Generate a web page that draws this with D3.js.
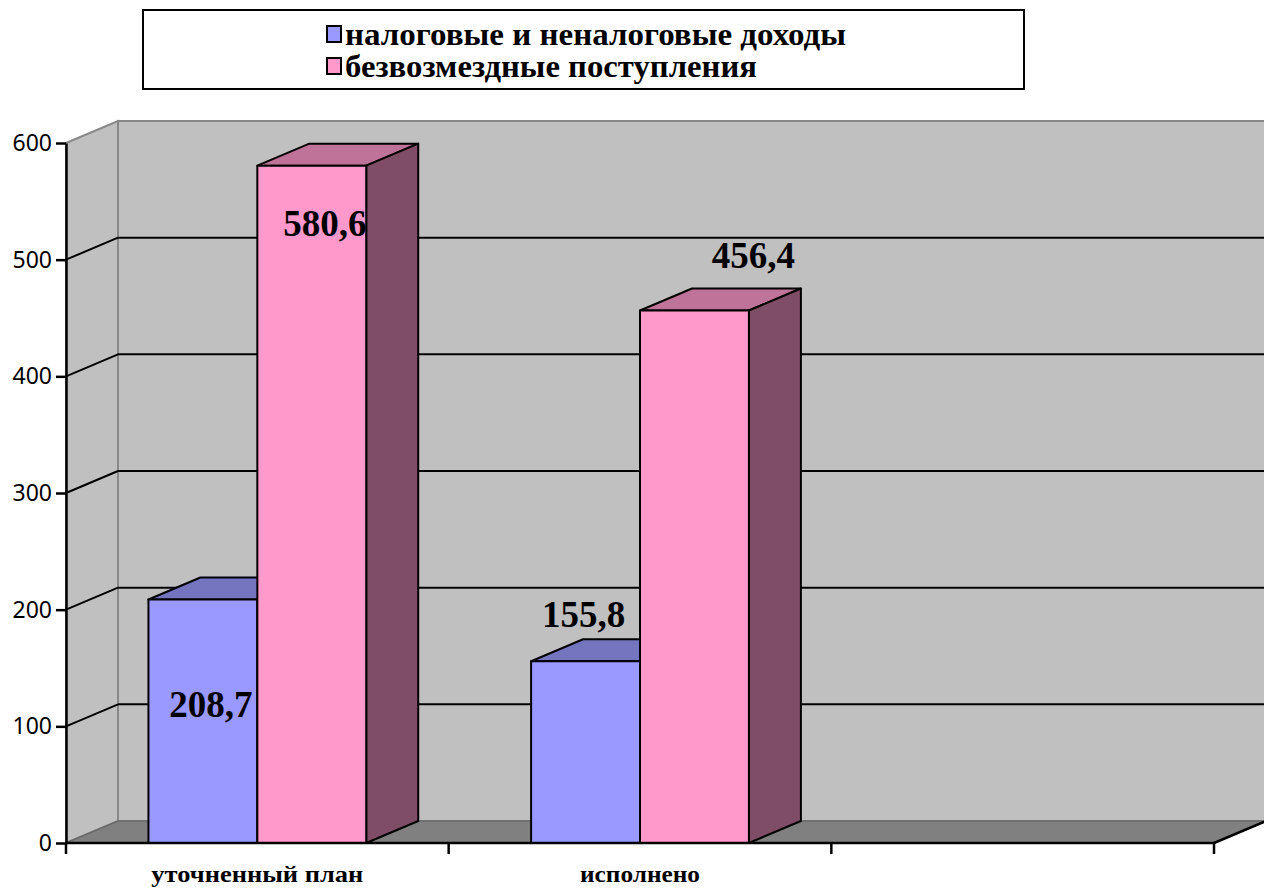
<!DOCTYPE html>
<html>
<head>
<meta charset="utf-8">
<script src="https://cdn.jsdelivr.net/npm/d3@7"></script>
<style>
  body { margin: 0; background: #fff; }
</style>
</head>
<body>
<div id="chart"></div>
<script>
const categories = ['уточненный план', 'исполнено', ''];
const seriesNames = ['налоговые и неналоговые доходы', 'безвозмездные поступления'];
const taxValues = [208.7, 155.8, null];
const grantValues = [580.6, 456.4, null];
const yTicks = [0, 100, 200, 300, 400, 500, 600];

const width = 1264, height = 891;
const margin = { top: 143, right: 50, bottom: 48, left: 66 };
const depth = { dx: 52, dy: -22 };

const fills = [
    { front: '#9999ff', top: '#7575bf', side: '#4d4d80' },
    { front: '#ff99cc', top: '#bf7399', side: '#804d66' }
];

const svg = d3.select('#chart')
    .append('svg')
    .attr('width', width)
    .attr('height', height);

const x = d3.scaleBand()
    .domain(categories)
    .range([margin.left, width - margin.right])
    .paddingInner(0)
    .paddingOuter(0);

const xs = d3.scaleBand()
    .domain(seriesNames)
    .range([0, x.bandwidth()])
    .paddingInner(0)
    .paddingOuter(0.757);

const y = d3.scaleLinear()
    .domain([0, 600])
    .range([height - margin.bottom, margin.top]);

const y0 = y(0);
const x0 = margin.left, x1 = width - margin.right;

// стены и пол
svg.append('polygon')
    .attr('points', [[x0 + depth.dx, y(600) + depth.dy], [width + 5, y(600) + depth.dy], [width + 5, y0 + depth.dy], [x0 + depth.dx, y0 + depth.dy]].join(' '))
    .attr('fill', '#c0c0c0')
    .attr('stroke', '#888')
    .attr('stroke-width', 2);

svg.append('polygon')
    .attr('points', [[x0, y(600)], [x0 + depth.dx, y(600) + depth.dy], [x0 + depth.dx, y0 + depth.dy], [x0, y0]].join(' '))
    .attr('fill', '#c0c0c0')
    .attr('stroke', '#888')
    .attr('stroke-width', 2);

svg.append('polygon')
    .attr('points', [[x0, y0], [x0 + depth.dx, y0 + depth.dy], [x1 + depth.dx, y0 + depth.dy], [x1, y0]].join(' '))
    .attr('fill', '#808080')
    .attr('stroke', '#6a6a6a')
    .attr('stroke-width', 1.5);

// линии сетки
const grid = svg.append('g').attr('stroke', '#000').attr('stroke-width', 2);
yTicks.filter(v => v > 0 && v < 600).forEach(v => {
    grid.append('line')
        .attr('x1', x0).attr('y1', y(v))
        .attr('x2', x0 + depth.dx).attr('y2', y(v) + depth.dy);
    grid.append('line')
        .attr('x1', x0 + depth.dx).attr('y1', y(v) + depth.dy)
        .attr('x2', width + 5).attr('y2', y(v) + depth.dy);
});

// столбцы
const barData = [];
categories.forEach((c, i) => {
    [taxValues[i], grantValues[i]].forEach((v, s) => {
        if (v != null) barData.push({ cat: c, s, name: seriesNames[s], value: v });
    });
});

const bars = svg.append('g');
barData.forEach(d => {
    const bx0 = x(d.cat) + xs(d.name);
    const bx1 = bx0 + xs.bandwidth();
    const by = y(d.value);
    const g = bars.append('g')
        .attr('stroke', '#000')
        .attr('stroke-width', 2)
        .attr('stroke-linejoin', 'round');
    g.append('polygon')
        .attr('points', [[bx0, by], [bx1, by], [bx1 + depth.dx, by + depth.dy], [bx0 + depth.dx, by + depth.dy]].join(' '))
        .attr('fill', fills[d.s].top);
    g.append('polygon')
        .attr('points', [[bx1, by], [bx1 + depth.dx, by + depth.dy], [bx1 + depth.dx, y0 + depth.dy], [bx1, y0]].join(' '))
        .attr('fill', fills[d.s].side);
    g.append('rect')
        .attr('x', bx0).attr('y', by)
        .attr('width', bx1 - bx0).attr('height', y0 - by)
        .attr('fill', fills[d.s].front);
});

// оси
svg.append('g')
    .attr('transform', `translate(${x0},0)`)
    .call(d3.axisLeft(y).tickValues(yTicks).tickSize(10).tickPadding(4).tickSizeOuter(0))
    .call(g => g.select('.domain').attr('stroke-width', 2.5))
    .call(g => g.selectAll('.tick line').attr('stroke-width', 2.5))
    .call(g => g.selectAll('.tick text')
        .attr('font-family', '"Noto Sans", "Open Sans", sans-serif')
        .attr('font-size', '23px')
        .attr('fill', '#000'));

const xAxis = svg.append('g').attr('stroke', '#000').attr('stroke-width', 2.5);
xAxis.append('line').attr('x1', x0).attr('x2', x1).attr('y1', y0).attr('y2', y0);
xAxis.append('line').attr('x1', x1).attr('y1', y0).attr('x2', x1 + depth.dx).attr('y2', y0 + depth.dy);
categories.forEach(c => {
    xAxis.append('line').attr('x1', x(c)).attr('x2', x(c)).attr('y1', y0).attr('y2', y0 + 11);
});
xAxis.append('line').attr('x1', x1).attr('x2', x1).attr('y1', y0).attr('y2', y0 + 11);

const catWidths = { 'уточненный план': 212, 'исполнено': 120 };
svg.append('g')
    .selectAll('text')
    .data(categories.filter(d => d))
    .join('text')
    .attr('x', d => x(d) + x.bandwidth() / 2)
    .attr('y', 882)
    .attr('text-anchor', 'middle')
    .attr('font-family', '"Liberation Serif", "Times New Roman", serif')
    .attr('font-weight', 'bold')
    .attr('font-size', '24px')
    .attr('textLength', d => catWidths[d])
    .attr('lengthAdjust', 'spacingAndGlyphs')
    .text(d => d);

// подписи значений
const labelPos = [
    { cat: 0, s: 0, dx: 8, dy: 117 },
    { cat: 0, s: 1, dx: 13, dy: 70 },
    { cat: 1, s: 0, dx: -2, dy: -34 },
    { cat: 1, s: 1, dx: 59, dy: -43 }
];
labelPos.forEach(p => {
    const name = seriesNames[p.s];
    const v = p.s === 0 ? taxValues[p.cat] : grantValues[p.cat];
    const cx = x(categories[p.cat]) + xs(name) + xs.bandwidth() / 2;
    svg.append('text')
        .attr('x', cx + p.dx)
        .attr('y', y(v) + p.dy)
        .attr('text-anchor', 'middle')
        .attr('font-family', '"Liberation Serif", "Times New Roman", serif')
        .attr('font-weight', 'bold')
        .attr('font-size', '37px')
        .text(String(v).replace('.', ','));
});

// легенда
const legendWidths = [501, 412];
const legend = svg.append('g');
legend.append('rect')
    .attr('x', 143).attr('y', 10)
    .attr('width', 881).attr('height', 79)
    .attr('fill', '#fff')
    .attr('stroke', '#000')
    .attr('stroke-width', 2);
seriesNames.forEach((n, i) => {
    legend.append('rect')
        .attr('x', 327).attr('y', 26 + i * 32)
        .attr('width', 14).attr('height', 16)
        .attr('fill', fills[i].front)
        .attr('stroke', '#000')
        .attr('stroke-width', 2);
    legend.append('text')
        .attr('x', 345).attr('y', 45 + i * 32)
        .attr('font-family', '"Liberation Serif", "Times New Roman", serif')
        .attr('font-weight', 'bold')
        .attr('font-size', '31px')
        .attr('textLength', legendWidths[i])
        .attr('lengthAdjust', 'spacingAndGlyphs')
        .text(n);
});
</script>
</body>
</html>
